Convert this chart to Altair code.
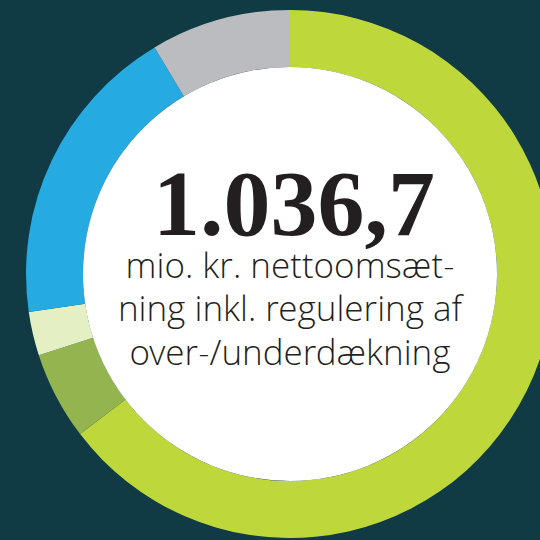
import altair as alt
import pandas as pd

# Segments of the donut (mio. kr.), clockwise from 12 o'clock
categories = ["Segment 1", "Segment 2", "Segment 3", "Segment 4", "Segment 5"]
values = [670.0, 55.9, 27.8, 194.1, 88.9]
colors = ["#bed73b", "#93b44f", "#e4efc4", "#25aae1", "#bbbcbf"]

headline = "1.036,7"
sub_lines = ["mio. kr. nettoomsæt-", "ning inkl. regulering af", "over-/underdækning"]

BG = "#103a44"
CX, CY = 290, 274

df = pd.DataFrame({"cat": categories, "val": values, "ord": list(range(len(values)))})

ring = alt.Chart(df).mark_arc(innerRadius=207, outerRadius=264).encode(
    theta=alt.Theta("val:Q", stack=True),
    order=alt.Order("ord:Q"),
    color=alt.Color("cat:N", scale=alt.Scale(domain=categories, range=colors), legend=None),
    x=alt.value(CX),
    y=alt.value(CY),
)

center = alt.Chart(pd.DataFrame({"a": [0]})).mark_arc(
    theta=0, theta2=6.2832, outerRadius=207, innerRadius=0, color="white"
).encode(x=alt.value(CX), y=alt.value(CY))

big = alt.Chart(pd.DataFrame({"t": [headline]})).mark_text(
    font="Liberation Serif", fontWeight="bold", fontSize=94,
    color="#231f20", align="center", baseline="alphabetic"
).encode(text="t:N", x=alt.value(294), y=alt.value(235))

baselines = [277.5, 321, 364.5]
layers = [ring, center, big]
for line, yb in zip(sub_lines, baselines):
    layers.append(
        alt.Chart(pd.DataFrame({"t": [line]})).mark_text(
            font="'Open Sans Light', 'Roboto Light', 'Open Sans'", fontWeight=300,
            fontSize=35, color="#231f20", align="center", baseline="alphabetic"
        ).encode(text="t:N", x=alt.value(290), y=alt.value(yb))
    )

chart = alt.layer(*layers).properties(
    width=540, height=540, padding=0, autosize=alt.AutoSizeParams(type="none"),
    background=BG,
).configure_view(stroke=None)

chart.save("out.html", embed_options={"renderer": "svg", "actions": False})
